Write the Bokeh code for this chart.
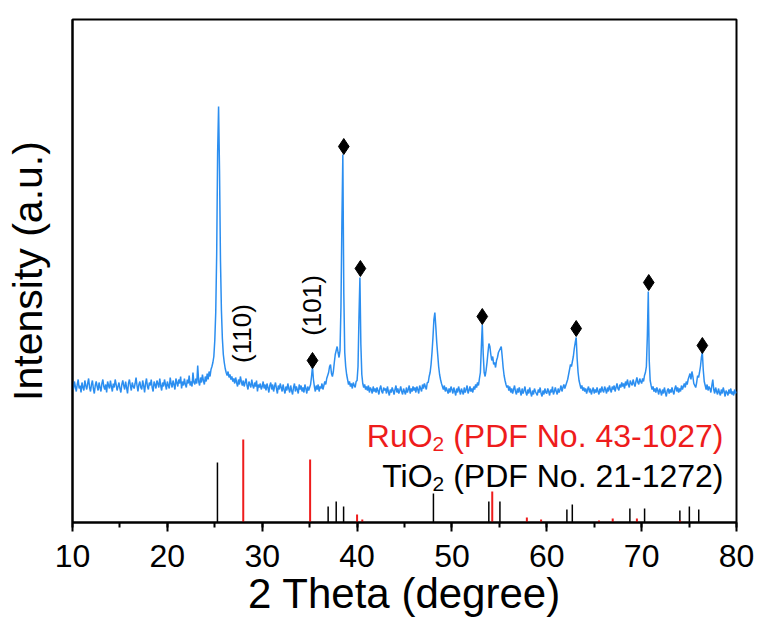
import math
from bokeh.plotting import figure
from bokeh.models import Range1d, SingleIntervalTicker, FixedTicker, Label
from bokeh.embed import file_html
from bokeh.resources import INLINE

# ---------------- data ----------------
scan_start = 10.0
scan_step = 0.1
intensity = [
    139,133,141,136,131,138,143,134,137,130,
    140,135,132,142,137,133,139,144,135,131,
    138,142,134,129,137,141,136,132,140,135,
    131,139,143,136,133,138,130,141,137,134,
    142,136,131,139,135,143,138,132,136,140,
    134,130,138,142,137,133,141,135,129,139,
    143,137,132,140,136,134,139,145,137,131,
    138,141,135,133,142,137,130,139,144,136,
    133,140,137,143,135,131,141,138,134,142,
    139,135,144,137,132,140,136,143,138,133,
    141,137,134,145,139,135,142,138,133,144,
    140,136,143,139,146,134,141,137,144,138,
    135,143,139,147,137,141,136,150,140,138,
    144,139,157,141,137,145,140,148,142,138,
    146,141,149,143,151,146,153,156,160,166,
    182,210,268,370,416,352,262,212,184,168,
    160,154,150,147,151,145,148,143,146,141,
    144,139,145,140,136,143,138,146,141,137,
    142,136,140,144,137,133,141,138,135,143,
    137,134,140,136,142,131,138,135,139,133,
    136,141,134,138,132,139,135,130,137,140,
    133,138,131,136,140,134,129,137,133,139,
    135,131,138,133,129,136,132,139,134,130,
    137,132,128,135,139,131,136,133,129,138,
    133,137,131,135,130,138,134,129,136,132,
    135,138,146,156,143,136,131,137,133,138,
    131,136,134,139,133,137,141,138,144,147,
    150,156,158,149,146,151,160,168,172,176,
    170,165,172,215,300,368,230,170,156,148,
    143,138,141,136,139,134,140,137,135,141,
    142,156,205,245,178,148,139,135,138,133,
    136,132,137,130,135,133,129,136,131,134,
    130,135,132,128,134,137,131,129,135,132,
    134,129,136,131,127,133,130,135,132,128,
    133,137,130,134,129,132,136,131,128,134,
    131,128,135,130,133,137,129,134,131,136,
    132,135,130,136,133,129,137,134,131,138,
    134,139,136,133,140,140,146,150,158,170,
    185,203,210,196,180,168,156,148,143,139,
    136,133,137,131,135,132,129,134,130,136,
    133,129,135,131,127,134,130,136,132,128,
    134,131,128,135,130,133,137,129,132,136,
    131,134,130,136,133,138,135,140,137,144,
    150,175,198,168,150,146,152,160,170,179,
    176,168,162,166,158,160,155,162,165,170,
    172,174,176,166,155,147,142,138,135,137,
    132,136,130,134,129,133,137,131,128,134,
    130,135,131,127,134,129,132,136,130,127,
    133,129,135,130,126,132,128,134,131,129,
    127,133,130,135,129,126,132,128,134,130,
    129,134,131,127,133,130,136,128,131,135,
    131,128,134,130,133,137,131,135,138,134,
    137,140,143,148,153,158,156,161,166,174,
    180,185,164,150,142,138,134,137,132,135,
    131,134,129,133,136,130,134,128,132,135,
    129,133,130,135,131,128,134,130,136,132,
    130,136,133,129,135,131,137,133,130,136,
    133,137,131,135,139,134,132,138,135,140,
    136,139,134,141,137,143,138,135,142,139,
    137,143,139,136,141,145,140,138,144,141,
    139,144,141,147,150,156,186,231,162,142,
    137,133,136,131,134,130,135,132,128,134,
    131,127,133,129,135,130,126,132,134,129,
    133,130,135,131,128,134,137,131,135,130,
    134,131,137,133,136,139,135,141,138,143,
    146,149,143,151,146,139,137,135,140,147,
    145,150,156,165,170,152,141,137,133,138,
    132,136,134,130,137,143,133,129,135,131,
    128,134,130,127,133,129,135,131,126,132,
    130,127,133,129,134,128,131,127,133,129,
    131,
]
two_theta = [round(scan_start + i * scan_step, 1) for i in range(len(intensity))]

# diamond-marked reflections
marked_2theta = [35.3, 38.6, 40.35, 53.2, 63.1, 70.75, 76.4]
marked_level = [162, 376, 254, 206, 194, 240, 177]

# hkl labels
hkl_text = ["(110)", "(101)"]
hkl_2theta = [27.9, 35.3]
hkl_level = [189, 217]

# reference patterns
ruo2_2theta = [28.0, 35.05, 40.0, 40.55, 54.25, 57.9, 59.4, 65.5, 66.95, 69.5, 74.05]
ruo2_height = [83, 63, 8, 3, 31, 5, 3, 2, 4, 4, 2]
tio2_2theta = [25.28, 36.95, 37.80, 38.58, 48.05, 53.89, 55.06, 62.12, 62.69,
               68.76, 70.31, 74.03, 75.03, 76.02]
tio2_height = [60, 16, 21, 16, 29, 21, 21, 13, 18, 14, 14, 12, 16, 13]

x_ticks_interval = 10
FONT = "Liberation Sans"

# ---------------- figure ----------------
p = figure(width=760, height=619, x_range=Range1d(10, 80), y_range=Range1d(0, 503),
           output_backend="svg", toolbar_location=None,
           min_border_left=72, min_border_right=24, min_border_top=19, min_border_bottom=97)
p.outline_line_color = "black"
p.outline_line_width = 2
p.xgrid.visible = False
p.ygrid.visible = False
p.background_fill_color = "white"
p.border_fill_color = "white"

xa = p.xaxis[0]
xa.ticker = SingleIntervalTicker(interval=x_ticks_interval, num_minor_ticks=2)
xa.axis_line_width = 2
xa.major_tick_line_width = 2
xa.minor_tick_line_width = 2
xa.major_tick_in = 0
xa.major_tick_out = 9
xa.minor_tick_in = 0
xa.minor_tick_out = 5
xa.major_label_text_font = FONT
xa.major_label_text_font_size = "32px"
xa.major_label_text_color = "black"
xa.major_label_standoff = 13
xa.axis_label = "2 Theta (degree)"
xa.axis_label_text_font = FONT
xa.axis_label_text_font_size = "42px"
xa.axis_label_text_font_style = "normal"
xa.axis_label_text_color = "black"
xa.axis_label_standoff = 0

ya = p.yaxis[0]
ya.ticker = FixedTicker(ticks=[])
ya.axis_line_width = 2
ya.major_label_standoff = 0
ya.axis_label = "Intensity (a.u.)"
ya.axis_label_text_font = FONT
ya.axis_label_text_font_size = "41px"
ya.axis_label_text_font_style = "normal"
ya.axis_label_text_color = "black"
ya.axis_label_standoff = 22

# reference sticks
p.segment(x0=tio2_2theta, y0=0, x1=tio2_2theta, y1=tio2_height,
          line_color="black", line_width=1.5)
p.segment(x0=ruo2_2theta, y0=0, x1=ruo2_2theta, y1=ruo2_height,
          line_color="#ee1c1c", line_width=2)

# XRD pattern
p.line(two_theta, intensity, line_color="#2b8ef0", line_width=1.5)

# diamonds
p.scatter(marked_2theta, marked_level, marker="diamond", size=16,
          fill_color="black", line_color="black")

# hkl labels
for t, xx, yy in zip(hkl_text, hkl_2theta, hkl_level):
    p.add_layout(Label(x=xx, y=yy, text=t, angle=math.pi / 2,
                       text_align="center", text_baseline="middle",
                       text_font=FONT, text_font_size="26px", text_color="black"))

# legend texts (main + subscript + tail), right aligned
def em_width(s):
    w = {"(": .333, ")": .333, " ": .278, ".": .278, "-": .333, "P": .667, "D": .722,
         "F": .611, "N": .722, "o": .556}
    return sum(w.get(c, .556) for c in s)

main_size, sub_size = 32, 21
legend_rows = [("RuO", "(PDF No. 43-1027)", "#ee1c1c", 87),
               ("TiO", "(PDF No. 21-1272)", "black", 47)]
for head, tail, col, base in legend_rows:
    off = -13
    p.add_layout(Label(x=80, y=base, x_offset=off, text=tail, text_align="right",
                       text_baseline="alphabetic", text_font=FONT,
                       text_font_size=f"{main_size}px", text_color=col))
    off -= em_width(tail) * main_size + 0.278 * main_size
    p.add_layout(Label(x=80, y=base, x_offset=off, y_offset=-8, text="2",
                       text_align="right", text_baseline="alphabetic", text_font=FONT,
                       text_font_size=f"{sub_size}px", text_color=col))
    off -= 0.556 * sub_size
    p.add_layout(Label(x=80, y=base, x_offset=off, text=head, text_align="right",
                       text_baseline="alphabetic", text_font=FONT,
                       text_font_size=f"{main_size}px", text_color=col))

open("out.html", "w").write(file_html(p, INLINE))
